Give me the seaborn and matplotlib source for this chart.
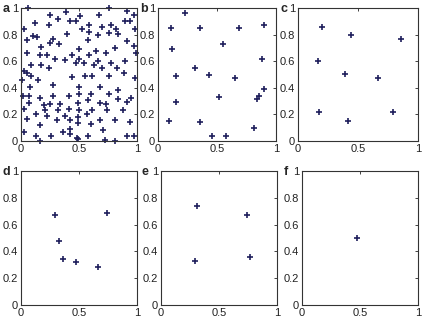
import matplotlib
matplotlib.use("Agg")
import matplotlib.pyplot as plt
import seaborn as sns
import pandas as pd

sns.set_theme(style="white")
plt.rcParams['font.family'] = ['Liberation Sans', 'DejaVu Sans']

# Panel a
a_x = [0.06,0.25,0.39,0.51,0.67,0.76,0.91,0.97,0.32,0.42,0.47,0.12,0.24,0.59,0.90,0.94,0.53,0.03,0.78,0.70,
       0.82,0.985,0.10,0.135,0.05,0.395,0.59,0.66,0.755,0.84,0.28,0.25,0.58,0.91,0.33,0.97,0.17,0.50,0.65,0.81,
       0.055,0.165,0.22,0.44,0.59,0.73,0.995,0.29,0.38,0.50,0.54,0.66,0.78,0.895,0.09,0.17,0.24,0.47,0.625,0.70,
       0.83,0.03,0.05,0.09,0.44,0.55,0.61,0.755,0.885,0.98,0.15,0.01,0.28,0.08,0.50,0.68,0.84,0.02,0.065,0.165,
       0.28,0.41,0.50,0.60,0.755,0.84,0.95,0.07,0.20,0.25,0.34,0.49,0.575,0.68,0.735,0.915,0.025,0.21,0.32,0.41,
       0.50,0.61,0.745,0.875,0.13,0.565,0.22,0.38,0.49,0.05,0.31,0.42,0.68,0.81,0.94,0.165,0.60,0.49,0.025,0.365,
       0.42,0.48,0.42,0.71,0.575,0.125,0.26,0.49,0.915,0.97,0.165,0.81,0.725]
a_y = [1.0,0.95,0.97,0.94,0.95,1.0,0.98,0.945,0.92,0.90,0.90,0.89,0.87,0.87,0.905,0.905,0.84,0.84,0.87,0.855,
       0.84,0.845,0.79,0.78,0.76,0.805,0.82,0.80,0.81,0.805,0.765,0.74,0.76,0.755,0.73,0.715,0.705,0.69,0.68,0.70,
       0.66,0.65,0.65,0.65,0.65,0.66,0.66,0.62,0.61,0.615,0.59,0.605,0.585,0.605,0.57,0.57,0.55,0.585,0.57,0.55,
       0.55,0.53,0.515,0.49,0.48,0.49,0.49,0.485,0.51,0.47,0.46,0.46,0.42,0.405,0.405,0.405,0.38,0.335,0.335,0.32,
       0.335,0.335,0.35,0.35,0.35,0.315,0.32,0.285,0.27,0.28,0.28,0.285,0.31,0.285,0.28,0.29,0.24,0.235,0.235,0.24,
       0.23,0.235,0.235,0.235,0.205,0.20,0.19,0.19,0.18,0.165,0.16,0.16,0.16,0.155,0.14,0.12,0.13,0.135,0.07,0.065,
       0.05,0.02,0.09,0.085,0.035,0.035,0.035,0.015,0.035,0.04,0.0,0.0,0.01]

# Panel b
b_x = [0.23,0.11,0.36,0.69,0.90,0.55,0.12,0.88,0.31,0.43,0.15,0.65,0.90,0.86,0.835,0.52,0.155,0.095,0.36,0.81,0.455,0.58]
b_y = [0.96,0.85,0.85,0.85,0.87,0.73,0.69,0.62,0.55,0.495,0.49,0.475,0.39,0.34,0.315,0.33,0.29,0.15,0.14,0.10,0.04,0.04]

# Panel c
c_x = [0.20,0.44,0.855,0.17,0.39,0.67,0.175,0.79,0.42]
c_y = [0.86,0.80,0.77,0.60,0.50,0.47,0.22,0.22,0.15]

# Panel d
d_x = [0.295,0.74,0.33,0.365,0.47,0.66]
d_y = [0.67,0.69,0.48,0.34,0.32,0.28]

# Panel e
e_x = [0.31,0.74,0.29,0.77]
e_y = [0.74,0.67,0.33,0.36]

# Panel f
f_x = [0.47]
f_y = [0.50]

panels = [("a", a_x, a_y), ("b", b_x, b_y), ("c", c_x, c_y),
          ("d", d_x, d_y), ("e", e_x, e_y), ("f", f_x, f_y)]

fig = plt.figure(figsize=(4.25, 3.21), dpi=100)
W, H = 425.0, 321.0
boxes = [(21, 8, 137, 141), (158, 8, 276, 141), (298, 8, 418, 141),
         (21, 171, 137, 305), (161, 171, 277, 305), (302, 171, 418, 305)]
label_x = [6, 144, 284, 6, 145, 286]

for (lab, xs, ys), (l, t, r, b), lx in zip(panels, boxes, label_x):
    ax = fig.add_axes([l / W, 1 - b / H, (r - l) / W, (b - t) / H])
    df = pd.DataFrame({"x": xs, "y": ys})
    sns.scatterplot(data=df, x="x", y="y", ax=ax, marker="+", s=24,
                    color="#1f1f5c", linewidth=1.2, clip_on=False)
    ax.set_xlim(0, 1)
    ax.set_ylim(0, 1)
    ax.set_xticks([0, 0.5, 1])
    ax.set_xticklabels(["0", "0.5", "1"])
    ax.set_yticks([0, 0.2, 0.4, 0.6, 0.8, 1])
    ax.set_yticklabels(["0", "0.2", "0.4", "0.6", "0.8", "1"])
    ax.set_xlabel("")
    ax.set_ylabel("")
    ax.tick_params(direction="in", length=2, width=0.6, labelsize=8,
                   top=True, right=True, pad=2, colors="#222222")
    for s in ax.spines.values():
        s.set_linewidth(0.8)
        s.set_color("#333333")
    fig.text(lx / W, 1 - (t + 1) / H, lab, fontsize=9,
             fontweight="bold", ha="center", va="center")

fig.savefig("out.png", dpi=100)
